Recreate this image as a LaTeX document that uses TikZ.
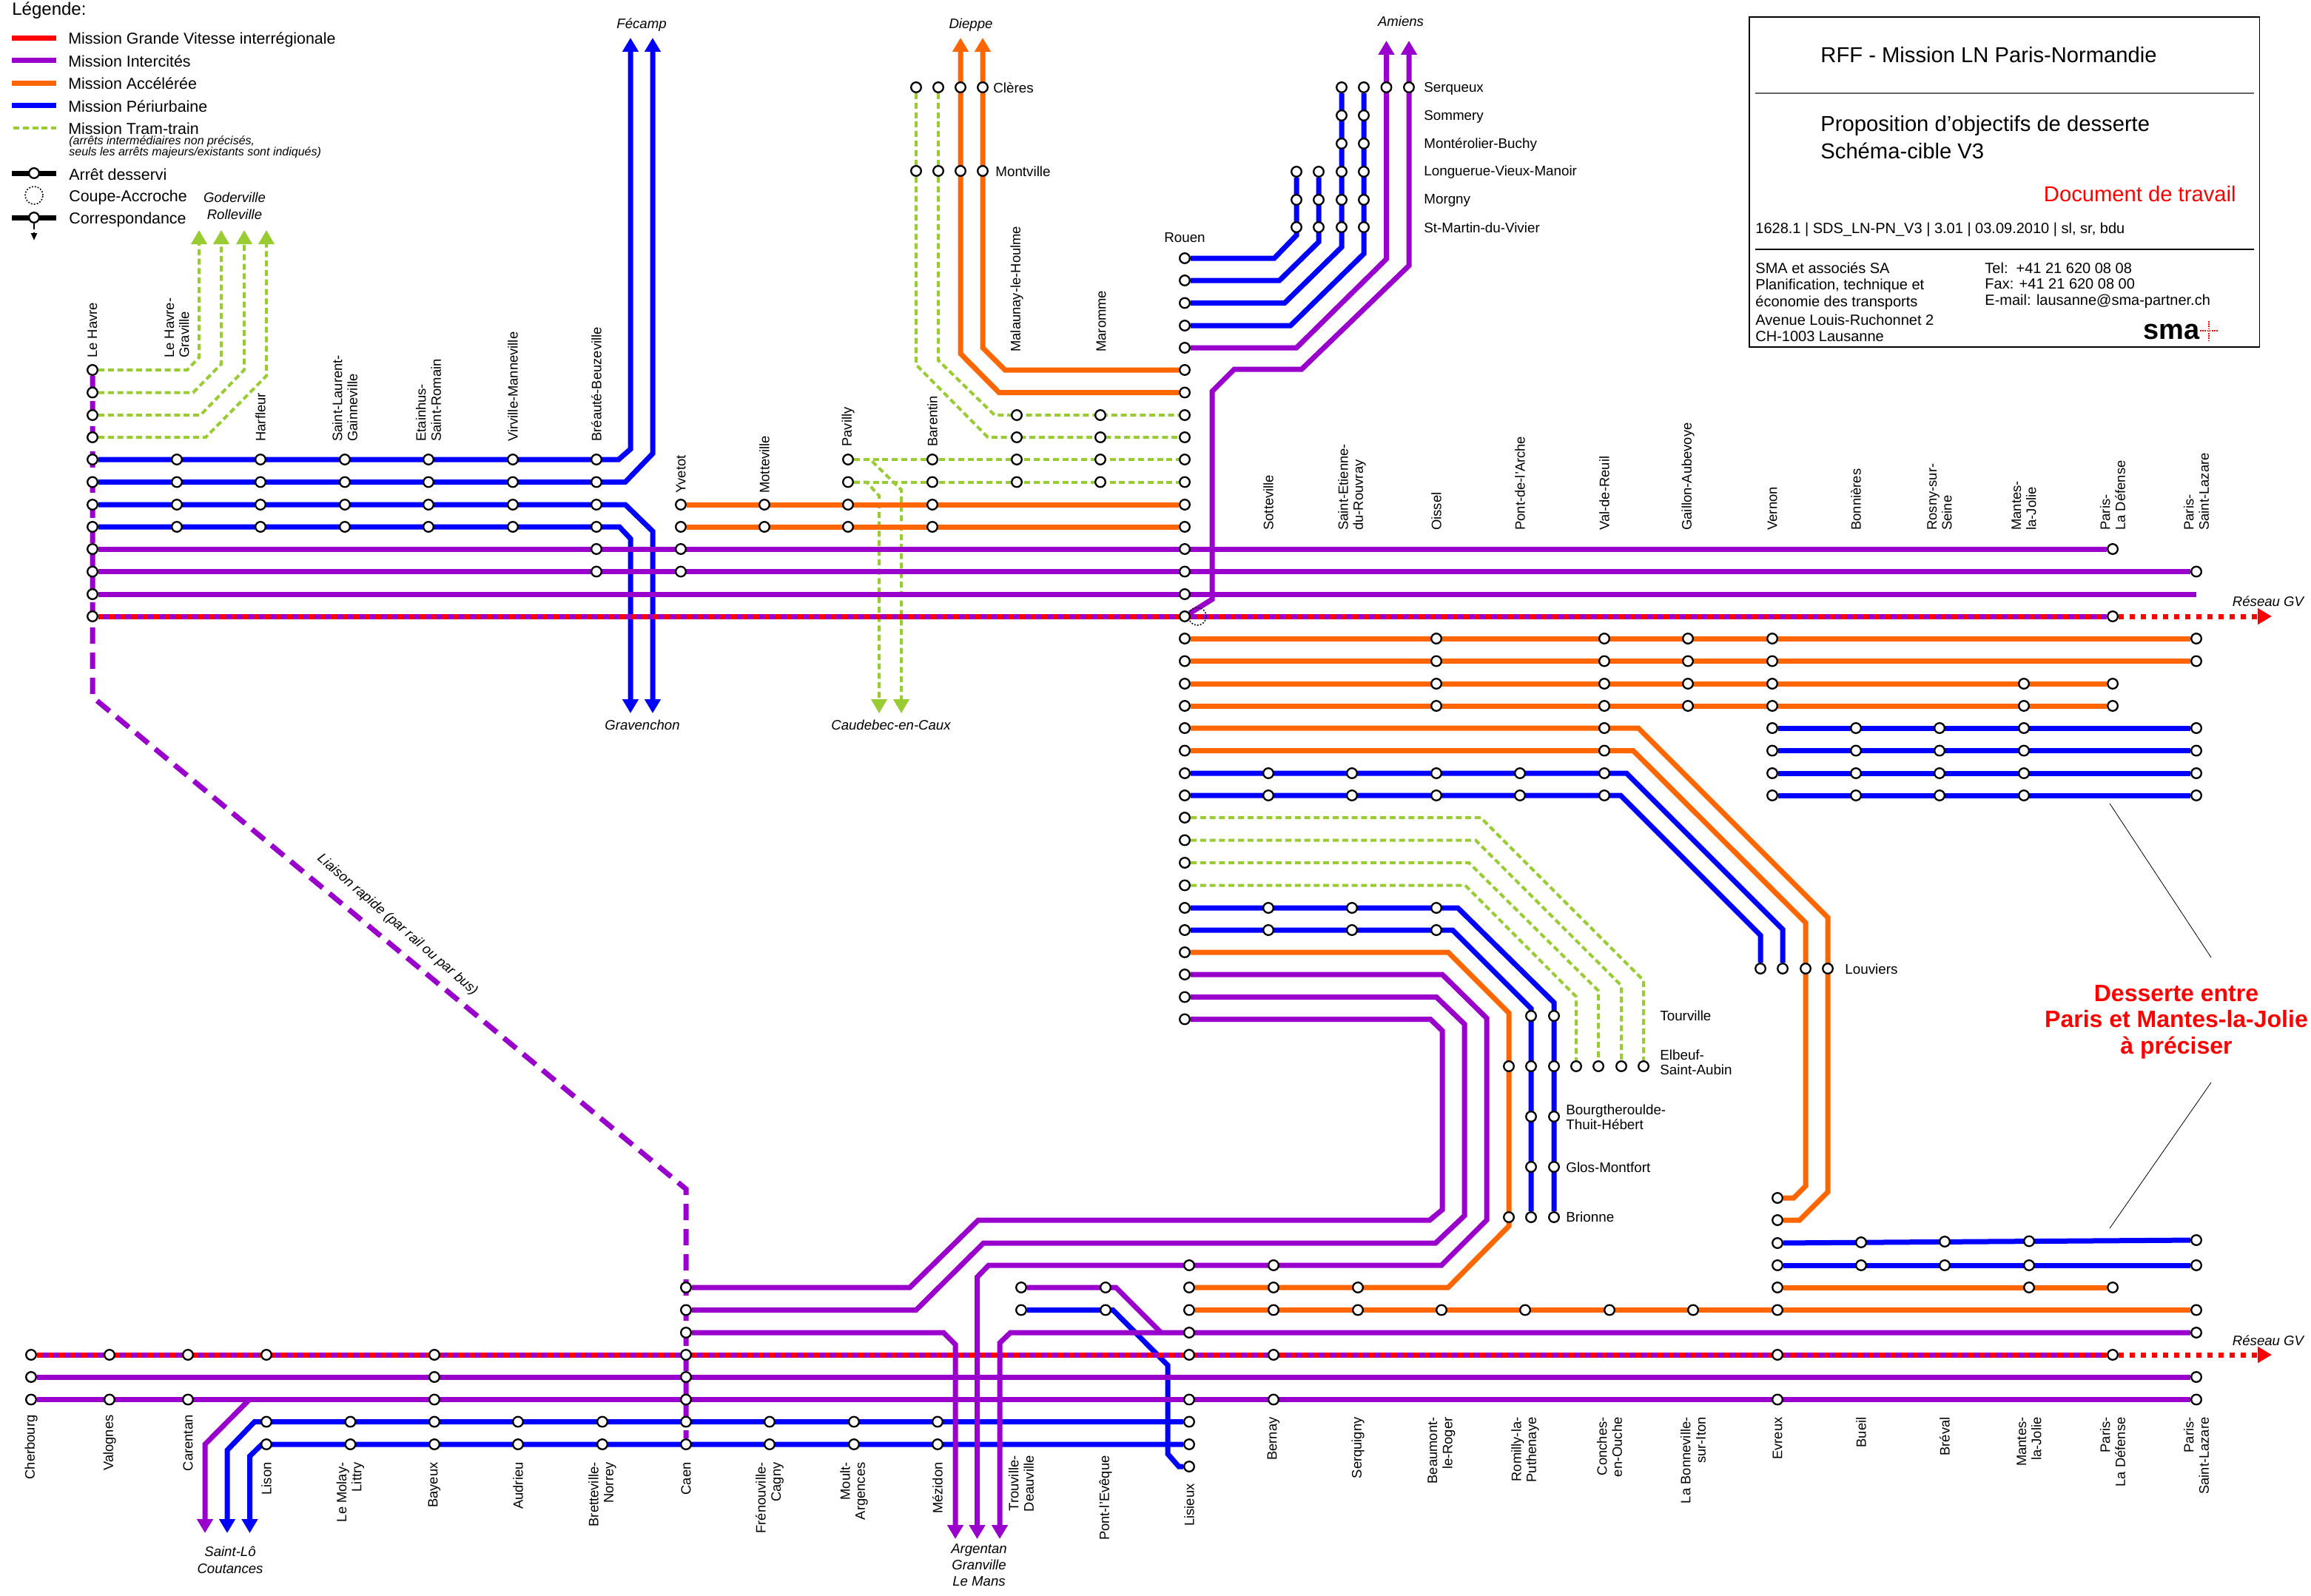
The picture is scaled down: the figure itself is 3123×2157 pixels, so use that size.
\documentclass[tikz,border=0pt]{standalone}
\usepackage{fontspec}
\setmainfont{Liberation Sans}
\usepackage{xcolor}
\usepackage{tikz}
\usetikzlibrary{arrows.meta,backgrounds}
\definecolor{colgv}{HTML}{FF0000}
\definecolor{colic}{HTML}{9900CC}
\definecolor{colacc}{HTML}{FF6600}
\definecolor{colperi}{HTML}{0000FF}
\definecolor{coltram}{HTML}{99CC33}
\tikzset{
  halt/.style={draw=black, fill=white, circle, line width=1.15pt, minimum size=6.8pt, inner sep=0pt},
  coupe/.style={draw=black, circle, dash pattern=on 0.9pt off 1.1pt, line width=0.8pt, minimum size=12pt, inner sep=0pt},
  linegv/.style={line width=3.5pt, colgv, dash pattern=on 3.75pt off 3.75pt},
  lineic/.style={line width=3.5pt, colic},
  lineacc/.style={line width=3.5pt, colacc},
  lineperi/.style={line width=3.5pt, colperi},
  linetram/.style={line width=2pt, coltram, dash pattern=on 4pt off 2.4pt},
  linerapide/.style={line width=3.5pt, colic, dash pattern=on 11pt off 6pt},
  linenoir/.style={line width=3.5pt, black},
  fleche/.style={-{Triangle[width=10.5pt,length=9.5pt]}},
  lab/.style={font=\fontsize{9.4}{10.2}\selectfont, inner sep=0pt},
  labrot/.style={font=\fontsize{9.2}{10.2}\selectfont, inner sep=0pt, rotate=90},
  labup/.style={labrot, anchor=west, align=left},
  labdn/.style={labrot, anchor=east, align=right},
  labr/.style={lab, anchor=west, align=left},
  dest/.style={font=\fontsize{9.3}{10.5}\selectfont\itshape, inner sep=0pt, align=center},
  leg/.style={font=\fontsize{10.7}{11}\selectfont, inner sep=0pt, anchor=west},
  cart/.style={font=\fontsize{14.6}{17}\selectfont, inner sep=0pt, anchor=west},
  cartp/.style={font=\fontsize{10}{11}\selectfont, inner sep=0pt, anchor=west}
}
\begin{document}
\begin{tikzpicture}[x=0.5pt,y=-0.5pt]
  \useasboundingbox (0,0) rectangle (3123,2157);

  % Legend
  \node[leg, font=\fontsize{12}{13}\selectfont] (legtitre) at (16,14) {Légende:};
  \coordinate (lega1) at (16,52); \coordinate (lega2) at (76,52);
  \coordinate (legb1) at (16,82); \coordinate (legb2) at (76,82);
  \coordinate (legc1) at (16,113); \coordinate (legc2) at (76,113);
  \coordinate (legd1) at (16,143); \coordinate (legd2) at (76,143);
  \coordinate (lege1) at (18,173); \coordinate (lege2) at (76,173);
  \coordinate (legf1) at (16,234); \coordinate (legf2) at (76,234);
  \coordinate (legg1) at (16,294); \coordinate (legg2) at (76,294);
  \coordinate (legg3) at (46,325);
  \node[leg] (legta) at (92,54) {Mission Grande Vitesse interrégionale};
  \node[leg] (legtb) at (92,83) {Mission Intercités};
  \node[leg] (legtc) at (92,113) {Mission Accélérée};
  \node[leg] (legtd) at (92,144) {Mission Périurbaine};
  \node[leg] (legte) at (92,174) {Mission Tram-train};
  \node[font=\fontsize{8}{7.8}\selectfont\itshape, inner sep=0pt, anchor=north west, align=left] (legtn) at (93,183) {(arrêts intermédiaires non précisés,\\seuls les arrêts majeurs/existants sont indiqués)};
  \node[leg] (legtf) at (93,236) {Arrêt desservi};
  \node[leg] (legtg) at (93,267) {Coupe-Accroche};
  \node[leg] (legth) at (93,297) {Correspondance};
  \node[halt] (legf) at (46,234) {};
  \node[coupe] (legc) at (46,264) {};
  \node[halt] (legg) at (46,294) {};

  % Cartouche
  \node[draw=black, line width=0.6pt, minimum width=344.75pt, minimum height=223pt, inner sep=0pt] (cadre) at (2708.75,246) {};
  \coordinate (sepa1) at (2372,126); \coordinate (sepa2) at (3046,126);
  \coordinate (sepb1) at (2372,337); \coordinate (sepb2) at (3046,337);
  \node[cart] (titre) at (2460,74) {RFF - Mission LN Paris-Normandie};
  \node[cart] (sous1) at (2460,170) {Proposition d’objectifs de desserte};
  \node[cart] (sous2) at (2460,204) {Schéma-cible V3};
  \node[cart, anchor=east, text=colgv] (travail) at (3022,262) {Document de travail};
  \node[cartp] (refdoc) at (2372,310) {1628.1 | SDS\_LN-PN\_V3 | 3.01 | 03.09.2010 | sl, sr, bdu};
  \node[cartp] (sma1) at (2372,362) {SMA et associés SA};
  \node[cartp] (sma2) at (2372,386) {Planification, technique et};
  \node[cartp] (sma3) at (2372,409) {économie des transports};
  \node[cartp] (sma4) at (2372,432) {Avenue Louis-Ruchonnet 2};
  \node[cartp] (sma5) at (2372,455) {CH-1003 Lausanne};
  \node[cartp] (tel) at (2682,362) {Tel:\ \ +41 21 620 08 08};
  \node[cartp] (fax) at (2682,384) {Fax: +41 21 620 08 00};
  \node[cartp] (mel) at (2682,407) {E-mail: lausanne@sma-partner.ch};
  \node[font=\fontsize{19}{19}\selectfont\bfseries, inner sep=0pt, anchor=east] (smalogo) at (2973,448) {sma};
  \coordinate (plusg) at (2973,447); \coordinate (plusd) at (2997,447);
  \coordinate (plush) at (2985,434); \coordinate (plusb) at (2985,460);

  % Rouen column
  \node[lab] (rouen) at (1601,321) {Rouen};
  \node[halt] (r0c13) at (1601,349) {}; \node[halt] (r1c13) at (1601,379) {}; \node[halt] (r2c13) at (1601,409.5) {}; \node[halt] (r3c13) at (1601,440) {};
  \node[halt] (r4c13) at (1601,470) {}; \node[halt] (r5c13) at (1601,500) {}; \node[halt] (r6c13) at (1601,530.5) {}; \node[halt] (r7c13) at (1601,561) {};
  \node[halt] (r8c13) at (1601,591) {}; \node[halt] (r9c13) at (1601,621) {}; \node[halt] (r10c13) at (1601,651.5) {}; \node[halt] (r11c13) at (1601,682) {};
  \node[halt] (r12c13) at (1601,712) {}; \node[halt] (r13c13) at (1601,742) {}; \node[halt] (r14c13) at (1601,772.5) {}; \node[halt] (r15c13) at (1601,803) {};
  \node[halt] (r16c13) at (1601,833) {}; \node[halt] (r17c13) at (1601,863) {}; \node[halt] (r18c13) at (1601,893.5) {}; \node[halt] (r19c13) at (1601,924) {};
  \node[halt] (r20c13) at (1601,954) {}; \node[halt] (r21c13) at (1601,984) {}; \node[halt] (r22c13) at (1601,1014.5) {}; \node[halt] (r23c13) at (1601,1045) {};
  \node[halt] (r24c13) at (1601,1075) {}; \node[halt] (r25c13) at (1601,1105) {}; \node[halt] (r26c13) at (1601,1135.5) {}; \node[halt] (r27c13) at (1601,1166) {};
  \node[halt] (r28c13) at (1601,1196.5) {}; \node[halt] (r29c13) at (1601,1227) {}; \node[halt] (r30c13) at (1601,1257) {}; \node[halt] (r31c13) at (1601,1287) {};
  \node[halt] (r32c13) at (1601,1317) {}; \node[halt] (r33c13) at (1601,1347.5) {}; \node[halt] (r34c13) at (1601,1377.5) {};

  % Amiens branch
  \node[halt] (ser3) at (1813,118) {}; \node[halt] (ser4) at (1843,118) {}; \node[halt] (ser5) at (1873.5,118) {}; \node[halt] (ser6) at (1904,118) {};
  \node[halt] (som3) at (1813,156) {}; \node[halt] (som4) at (1843,156) {};
  \node[halt] (mon3) at (1813,194) {}; \node[halt] (mon4) at (1843,194) {};
  \node[halt] (lon1) at (1752,232) {}; \node[halt] (lon2) at (1782,232) {}; \node[halt] (lon3) at (1813,232) {}; \node[halt] (lon4) at (1843,232) {};
  \node[halt] (mor1) at (1752,270) {}; \node[halt] (mor2) at (1782,270) {}; \node[halt] (mor3) at (1813,270) {}; \node[halt] (mor4) at (1843,270) {};
  \node[halt] (stm1) at (1752,307) {}; \node[halt] (stm2) at (1782,307) {}; \node[halt] (stm3) at (1813,307) {}; \node[halt] (stm4) at (1843,307) {};
  \node[labr] (serq) at (1924,120) {Serqueux};
  \node[labr] (somm) at (1924,158) {Sommery};
  \node[labr] (mont) at (1924,196) {Montérolier-Buchy};
  \node[labr] (long) at (1924,233) {Longuerue-Vieux-Manoir};
  \node[labr] (morg) at (1924,271) {Morgny};
  \node[labr] (stma) at (1924,308) {St-Martin-du-Vivier};
  \node[dest] (amiens) at (1893,29) {Amiens};
  \coordinate (amia) at (1873.5,55); \coordinate (amib) at (1904,55);

  % Dieppe branch
  \node[halt] (cle1) at (1238,118) {}; \node[halt] (cle2) at (1268,118) {}; \node[halt] (cle3) at (1298,118) {}; \node[halt] (cle4) at (1328,118) {};
  \node[halt] (mtv1) at (1238,231) {}; \node[halt] (mtv2) at (1268,231) {}; \node[halt] (mtv3) at (1298,231) {}; \node[halt] (mtv4) at (1328,231) {};
  \node[labr] (cleres) at (1342,119) {Clères};
  \node[labr] (montv) at (1345,232) {Montville};
  \node[dest] (dieppe) at (1312,34) {Dieppe};
  \coordinate (diea) at (1298,51); \coordinate (dieb) at (1328,51);
  \node[labup] (malau) at (1374,476) {Malaunay-le-Houlme};
  \node[labup] (marom) at (1488,476) {Maromme};

  % Le Havre column and west stops
  \node[halt] (r5c0) at (125,500) {}; \node[halt] (r6c0) at (125,530.5) {}; \node[halt] (r7c0) at (125,561) {}; \node[halt] (r8c0) at (125,591) {};
  \node[halt] (r9c0) at (125,621) {}; \node[halt] (r9c1) at (239,621) {}; \node[halt] (r9c2) at (352,621) {}; \node[halt] (r9c3) at (466,621) {};
  \node[halt] (r9c4) at (579,621) {}; \node[halt] (r9c5) at (693,621) {}; \node[halt] (r9c6) at (806,621) {};
  \node[halt] (r10c0) at (125,651.5) {}; \node[halt] (r10c1) at (239,651.5) {}; \node[halt] (r10c2) at (352,651.5) {}; \node[halt] (r10c3) at (466,651.5) {};
  \node[halt] (r10c4) at (579,651.5) {}; \node[halt] (r10c5) at (693,651.5) {}; \node[halt] (r10c6) at (806,651.5) {};
  \node[halt] (r11c0) at (125,682) {}; \node[halt] (r11c1) at (239,682) {}; \node[halt] (r11c2) at (352,682) {}; \node[halt] (r11c3) at (466,682) {};
  \node[halt] (r11c4) at (579,682) {}; \node[halt] (r11c5) at (693,682) {}; \node[halt] (r11c6) at (806,682) {};
  \node[halt] (r12c0) at (125,712) {}; \node[halt] (r12c1) at (239,712) {}; \node[halt] (r12c2) at (352,712) {}; \node[halt] (r12c3) at (466,712) {};
  \node[halt] (r12c4) at (579,712) {}; \node[halt] (r12c5) at (693,712) {}; \node[halt] (r12c6) at (806,712) {};
  \node[halt] (r13c0) at (125,742) {}; \node[halt] (r13c6) at (806,742) {}; \node[halt] (r13c7) at (920,742) {}; \node[halt] (r13c24) at (2855,742) {};
  \node[halt] (r14c0) at (125,772.5) {}; \node[halt] (r14c6) at (806,772.5) {}; \node[halt] (r14c7) at (920,772.5) {}; \node[halt] (r14c25) at (2968,772.5) {};
  \node[halt] (r15c0) at (125,803) {}; \node[halt] (r16c0) at (125,833) {}; \node[halt] (r16c24) at (2855,833) {};
  \coordinate (r15fin) at (2968,803);

  \node[labup] (lehavre) at (125,484) {Le Havre};
  \node[labup] (graville) at (239,484) {Le Havre-\\Graville};
  \node[labup] (harfleur) at (352,597) {Harfleur};
  \node[labup] (gainne) at (466,597) {Saint-Laurent-\\Gainneville};
  \node[labup] (etainhus) at (579,597) {Etainhus-\\Saint-Romain};
  \node[labup] (virville) at (693,597) {Virville-Manneville};
  \node[labup] (breaute) at (806,597) {Bréauté-Beuzeville};
  \node[dest] (goder) at (317,278) {Goderville\\[1pt]Rolleville};
  \coordinate (goda) at (269,311); \coordinate (godb) at (299,311); \coordinate (godc) at (330,311); \coordinate (godd) at (360,311);
  \node[dest] (fecamp) at (867,34) {Fécamp};
  \coordinate (feca) at (852,51); \coordinate (fecb) at (882,51);
  \node[dest] (gravenchon) at (868,980) {Gravenchon};
  \coordinate (grava) at (852,964); \coordinate (gravb) at (882,964);

  % Yvetot to Barentin
  \node[halt] (r11c7) at (920,682) {}; \node[halt] (r11c8) at (1033,682) {}; \node[halt] (r11c9) at (1146,682) {}; \node[halt] (r11c10) at (1260,682) {};
  \node[halt] (r12c7) at (920,712) {}; \node[halt] (r12c8) at (1033,712) {}; \node[halt] (r12c9) at (1146,712) {}; \node[halt] (r12c10) at (1260,712) {};
  \node[halt] (r9c9) at (1146,621) {}; \node[halt] (r9c10) at (1260,621) {}; \node[halt] (r9c11) at (1374,621) {}; \node[halt] (r9c12) at (1487,621) {};
  \node[halt] (r10c9) at (1146,651.5) {}; \node[halt] (r10c10) at (1260,651.5) {}; \node[halt] (r10c11) at (1374,651.5) {}; \node[halt] (r10c12) at (1487,651.5) {};
  \node[halt] (r7c11) at (1374,561) {}; \node[halt] (r7c12) at (1487,561) {}; \node[halt] (r8c11) at (1374,591) {}; \node[halt] (r8c12) at (1487,591) {};
  \node[labup] (yvetot) at (920,667) {Yvetot};
  \node[labup] (motte) at (1033,667) {Motteville};
  \node[labup] (pavilly) at (1146,604) {Pavilly};
  \node[labup] (barentin) at (1260,604) {Barentin};
  \node[dest] (caudebec) at (1204,980) {Caudebec-en-Caux};
  \coordinate (cauda) at (1188,964); \coordinate (caudb) at (1218,964);

  % East stops, Rouen to Paris
  \node[halt] (r17c16) at (1941,863) {}; \node[halt] (r17c18) at (2168,863) {}; \node[halt] (r17c19) at (2281,863) {}; \node[halt] (r17c20) at (2395,863) {}; \node[halt] (r17c25) at (2968,863) {};
  \node[halt] (r18c16) at (1941,893.5) {}; \node[halt] (r18c18) at (2168,893.5) {}; \node[halt] (r18c19) at (2281,893.5) {}; \node[halt] (r18c20) at (2395,893.5) {}; \node[halt] (r18c25) at (2968,893.5) {};
  \node[halt] (r19c16) at (1941,924) {}; \node[halt] (r19c18) at (2168,924) {}; \node[halt] (r19c19) at (2281,924) {}; \node[halt] (r19c20) at (2395,924) {}; \node[halt] (r19c23) at (2735,924) {}; \node[halt] (r19c24) at (2855,924) {};
  \node[halt] (r20c16) at (1941,954) {}; \node[halt] (r20c18) at (2168,954) {}; \node[halt] (r20c19) at (2281,954) {}; \node[halt] (r20c20) at (2395,954) {}; \node[halt] (r20c23) at (2735,954) {}; \node[halt] (r20c24) at (2855,954) {};
  \node[halt] (r21c18) at (2168,984) {}; \node[halt] (r22c18) at (2168,1014.5) {};
  \node[halt] (r21c20) at (2395,984) {}; \node[halt] (r21c21) at (2508,984) {}; \node[halt] (r21c22) at (2621,984) {}; \node[halt] (r21c23) at (2735,984) {}; \node[halt] (r21c25) at (2968,984) {};
  \node[halt] (r22c20) at (2395,1014.5) {}; \node[halt] (r22c21) at (2508,1014.5) {}; \node[halt] (r22c22) at (2621,1014.5) {}; \node[halt] (r22c23) at (2735,1014.5) {}; \node[halt] (r22c25) at (2968,1014.5) {};
  \node[halt] (r23c20) at (2395,1045) {}; \node[halt] (r23c21) at (2508,1045) {}; \node[halt] (r23c22) at (2621,1045) {}; \node[halt] (r23c23) at (2735,1045) {}; \node[halt] (r23c25) at (2968,1045) {};
  \node[halt] (r24c20) at (2395,1075) {}; \node[halt] (r24c21) at (2508,1075) {}; \node[halt] (r24c22) at (2621,1075) {}; \node[halt] (r24c23) at (2735,1075) {}; \node[halt] (r24c25) at (2968,1075) {};
  \node[halt] (r23c14) at (1714,1045) {}; \node[halt] (r23c15) at (1827,1045) {}; \node[halt] (r23c16) at (1941,1045) {}; \node[halt] (r23c17) at (2054,1045) {}; \node[halt] (r23c18) at (2168,1045) {};
  \node[halt] (r24c14) at (1714,1075) {}; \node[halt] (r24c15) at (1827,1075) {}; \node[halt] (r24c16) at (1941,1075) {}; \node[halt] (r24c17) at (2054,1075) {}; \node[halt] (r24c18) at (2168,1075) {};
  \node[halt] (r29c14) at (1714,1227) {}; \node[halt] (r29c15) at (1827,1227) {}; \node[halt] (r29c16) at (1941,1227) {};
  \node[halt] (r30c14) at (1714,1257) {}; \node[halt] (r30c15) at (1827,1257) {}; \node[halt] (r30c16) at (1941,1257) {};
  \node[labup] (sotte) at (1714,717) {Sotteville};
  \node[labup] (etienne) at (1827,717) {Saint-Etienne-\\du-Rouvray};
  \node[labup] (oissel) at (1941,717) {Oissel};
  \node[labup] (arche) at (2054,717) {Pont-de-l’Arche};
  \node[labup] (valreuil) at (2168,717) {Val-de-Reuil};
  \node[labup] (gaillon) at (2281,717) {Gaillon-Aubevoye};
  \node[labup] (vernon) at (2395,717) {Vernon};
  \node[labup] (bonnieres) at (2508,717) {Bonnières};
  \node[labup] (rosny) at (2621,717) {Rosny-sur-\\Seine};
  \node[labup] (mantesh) at (2735,717) {Mantes-\\la-Jolie};
  \node[labup] (defenseh) at (2855,717) {Paris-\\La Défense};
  \node[labup] (lazareh) at (2968,717) {Paris-\\Saint-Lazare};
  \node[dest] (reseauh) at (3065,813) {Réseau GV};
  \coordinate (gvh) at (3070,833);

  % Louviers, Elbeuf, Brionne
  \node[halt] (lou1) at (2379,1309) {}; \node[halt] (lou2) at (2409,1309) {}; \node[halt] (lou3) at (2440,1309) {}; \node[halt] (lou4) at (2470,1309) {};
  \node[labr] (louviers) at (2493,1310) {Louviers};
  \node[halt] (tou2) at (2069,1373) {}; \node[halt] (tou3) at (2100,1373) {};
  \node[halt] (elb1) at (2039,1441) {}; \node[halt] (elb2) at (2069,1441) {}; \node[halt] (elb3) at (2100,1441) {}; \node[halt] (elb4) at (2130,1441) {};
  \node[halt] (elb5) at (2160,1441) {}; \node[halt] (elb6) at (2191,1441) {}; \node[halt] (elb7) at (2221,1441) {};
  \node[halt] (bou2) at (2069,1509) {}; \node[halt] (bou3) at (2100,1509) {};
  \node[halt] (glo2) at (2069,1577) {}; \node[halt] (glo3) at (2100,1577) {};
  \node[halt] (bri1) at (2039,1645) {}; \node[halt] (bri2) at (2069,1645) {}; \node[halt] (bri3) at (2100,1645) {};
  \node[labr] (tourville) at (2243,1373) {Tourville};
  \node[labr] (elbeuf) at (2243,1436) {Elbeuf-\\Saint-Aubin};
  \node[labr] (bourg) at (2116,1510) {Bourgtheroulde-\\Thuit-Hébert};
  \node[labr] (glos) at (2116,1578) {Glos-Montfort};
  \node[labr] (brionne) at (2116,1645) {Brionne};

  % Paris-Mantes note
  \node[font=\fontsize{16}{17.8}\selectfont\bfseries, text=colgv, inner sep=0pt, align=center] (preciser) at (2941,1381) {Desserte entre\\Paris et Mantes-la-Jolie\\à préciser};
  \coordinate (noteh1) at (2851,1086); \coordinate (noteh2) at (2988,1294);
  \coordinate (noteb1) at (2988,1463); \coordinate (noteb2) at (2851,1660);

  % Lower network, Cherbourg to Caen
  \node[halt] (l6w1) at (42,1831) {}; \node[halt] (l6w2) at (148,1831) {}; \node[halt] (l6w3) at (254,1831) {}; \node[halt] (l6k0) at (360,1831) {}; \node[halt] (l6k2) at (587,1831) {};
  \node[halt] (l7w1) at (42,1861) {}; \node[halt] (l7k2) at (587,1861) {};
  \node[halt] (l8w1) at (42,1891.5) {}; \node[halt] (l8w2) at (148,1891.5) {}; \node[halt] (l8w3) at (254,1891.5) {}; \node[halt] (l8k2) at (587,1891.5) {};
  \node[halt] (l3k5) at (927,1740) {}; \node[halt] (l4k5) at (927,1770.5) {}; \node[halt] (l5k5) at (927,1801) {}; \node[halt] (l6k5) at (927,1831) {};
  \node[halt] (l7k5) at (927,1861) {}; \node[halt] (l8k5) at (927,1891.5) {};
  \node[halt] (l9k0) at (360,1921.5) {}; \node[halt] (l9k1) at (473.5,1921.5) {}; \node[halt] (l9k2) at (587,1921.5) {}; \node[halt] (l9k3) at (700,1921.5) {};
  \node[halt] (l9k4) at (814,1921.5) {}; \node[halt] (l9k5) at (927,1921.5) {}; \node[halt] (l9k6) at (1040,1921.5) {}; \node[halt] (l9k7) at (1154,1921.5) {}; \node[halt] (l9k8) at (1267,1921.5) {};
  \node[halt] (l10k0) at (360,1952) {}; \node[halt] (l10k1) at (473.5,1952) {}; \node[halt] (l10k2) at (587,1952) {}; \node[halt] (l10k3) at (700,1952) {};
  \node[halt] (l10k4) at (814,1952) {}; \node[halt] (l10k5) at (927,1952) {}; \node[halt] (l10k6) at (1040,1952) {}; \node[halt] (l10k7) at (1154,1952) {}; \node[halt] (l10k8) at (1267,1952) {};

  % Lower network, Lisieux to Paris
  \node[halt] (l3k9) at (1380,1740) {}; \node[halt] (l3k10) at (1494,1740) {}; \node[halt] (l4k9) at (1380,1770.5) {}; \node[halt] (l4k10) at (1494,1770.5) {};
  \node[halt] (l2k11) at (1607,1710) {}; \node[halt] (l3k11) at (1607,1740) {}; \node[halt] (l4k11) at (1607,1770.5) {}; \node[halt] (l5k11) at (1607,1801) {}; \node[halt] (l6k11) at (1607,1831) {};
  \node[halt] (l8k11) at (1607,1891.5) {}; \node[halt] (l9k11) at (1607,1921.5) {}; \node[halt] (l10k11) at (1607,1952) {}; \node[halt] (l11k11) at (1607,1982) {};
  \node[halt] (l2k12) at (1721,1710) {}; \node[halt] (l3k12) at (1721,1740) {}; \node[halt] (l4k12) at (1721,1770.5) {}; \node[halt] (l6k12) at (1721,1831) {}; \node[halt] (l8k12) at (1721,1891.5) {};
  \node[halt] (l3k13) at (1835,1740) {}; \node[halt] (l4k13) at (1835,1770.5) {}; \node[halt] (l4k14) at (1948,1770.5) {}; \node[halt] (l4k15) at (2061,1770.5) {};
  \node[halt] (l4k16) at (2175,1770.5) {}; \node[halt] (l4k17) at (2288,1770.5) {}; \node[halt] (l4k18) at (2402,1770.5) {}; \node[halt] (l4k23) at (2968,1770.5) {};
  \node[halt] (louo1) at (2402,1619) {}; \node[halt] (louo2) at (2402,1649) {};
  \node[halt] (l1k18) at (2402,1680) {}; \node[halt] (l1k19) at (2515,1679) {}; \node[halt] (l1k20) at (2628,1678) {}; \node[halt] (l1k21) at (2742,1677.5) {}; \node[halt] (l1k23) at (2968,1676) {};
  \node[halt] (l2k18) at (2402,1710) {}; \node[halt] (l2k19) at (2515,1710) {}; \node[halt] (l2k20) at (2628,1710) {}; \node[halt] (l2k21) at (2742,1710) {}; \node[halt] (l2k23) at (2968,1710) {};
  \node[halt] (l3k18) at (2402,1740) {}; \node[halt] (l3k21) at (2742,1740) {}; \node[halt] (l3k22) at (2855,1740) {};
  \node[halt] (l5k23) at (2968,1801) {}; \node[halt] (l6k18) at (2402,1831) {}; \node[halt] (l6k22) at (2855,1831) {};
  \node[halt] (l7k23) at (2968,1861) {}; \node[halt] (l8k18) at (2402,1891.5) {}; \node[halt] (l8k23) at (2968,1891.5) {};
  \node[dest] (reseaub) at (3065,1812) {Réseau GV};
  \coordinate (gvb) at (3070,1831);

  % Lower labels
  \node[labdn] (cherbourg) at (42,1912) {Cherbourg};
  \node[labdn] (valognes) at (148,1912) {Valognes};
  \node[labdn] (carentan) at (254,1912) {Carentan};
  \node[labdn] (lison) at (360,1976) {Lison};
  \node[labdn] (molay) at (473.5,1976) {Le Molay-\\Littry};
  \node[labdn] (bayeux) at (587,1976) {Bayeux};
  \node[labdn] (audrieu) at (700,1976) {Audrieu};
  \node[labdn] (brette) at (814,1976) {Bretteville-\\Norrey};
  \node[labdn] (caen) at (927,1976) {Caen};
  \node[labdn] (freno) at (1040,1976) {Frénouville-\\Cagny};
  \node[labdn] (moult) at (1154,1976) {Moult-\\Argences};
  \node[labdn] (mezidon) at (1267,1976) {Mézidon};
  \node[labdn] (trouville) at (1380,1967) {Trouville-\\Deauville};
  \node[labdn] (pontev) at (1494,1967) {Pont-l’Evêque};
  \node[labdn] (lisieux) at (1607,2005) {Lisieux};
  \node[labdn] (bernay) at (1721,1915) {Bernay};
  \node[labdn] (serquigny) at (1835,1915) {Serquigny};
  \node[labdn] (beaumont) at (1948,1915) {Beaumont-\\le-Roger};
  \node[labdn] (romilly) at (2061,1915) {Romilly-la-\\Puthenaye};
  \node[labdn] (conches) at (2175,1915) {Conches-\\en-Ouche};
  \node[labdn] (bonneville) at (2288,1915) {La Bonneville-\\sur-Iton};
  \node[labdn] (evreux) at (2402,1915) {Evreux};
  \node[labdn] (bueil) at (2515,1915) {Bueil};
  \node[labdn] (breval) at (2628,1915) {Bréval};
  \node[labdn] (mantesb) at (2742,1915) {Mantes-\\la-Jolie};
  \node[labdn] (defenseb) at (2855,1915) {Paris-\\La Défense};
  \node[labdn] (lazareb) at (2968,1915) {Paris-\\Saint-Lazare};
  \node[dest] (saintlo) at (311,2108.5) {Saint-Lô\\[1pt]Coutances};
  \coordinate (stloa) at (277,2072); \coordinate (stlob) at (307,2072); \coordinate (stloc) at (337.5,2072);
  \node[dest] (argentan) at (1323,2115) {Argentan\\[0.5pt]Granville\\[0.5pt]Le Mans};
  \coordinate (arga) at (1291,2080); \coordinate (argb) at (1320.5,2080); \coordinate (argc) at (1351,2080);
  \node[font=\fontsize{9.2}{10}\selectfont\itshape, inner sep=0pt, rotate=-41] (liaison) at (537,1250) {Liaison rapide (par rail ou par bus)};

  \begin{scope}[on background layer]
    % Legend lines and cartouche rules
    \draw[line width=3.5pt, colgv] (lega1) -- (lega2);
    \draw[lineic] (legb1) -- (legb2);
    \draw[lineacc] (legc1) -- (legc2);
    \draw[lineperi] (legd1) -- (legd2);
    \draw[linetram] (lege1) -- (lege2);
    \draw[linenoir] (legf1) -- (legf2);
    \draw[linenoir] (legg1) -- (legg2);
    \draw[black, line width=1.3pt, dash pattern=on 4pt off 2pt, -{Triangle[width=4pt,length=5pt]}] (legg) -- (legg3);
    \draw[gray!80!black, line width=0.8pt] (sepa1) -- (sepa2);
    \draw[black, line width=0.6pt] (sepb1) -- (sepb2);
    \draw[colgv, dash pattern=on 0.8pt off 0.8pt, line width=0.8pt] (plusg) -- (plusd);
    \draw[colgv, dash pattern=on 0.8pt off 0.8pt, line width=0.8pt] (plush) -- (plusb);
    \draw[black, line width=0.4pt] (noteh1) -- (noteh2);
    \draw[black, line width=0.4pt] (noteb1) -- (noteb2);

    % Tram-train
    \draw[linetram, fleche] (r5c0) -- (253,500) -- (269,483) -- (goda);
    \draw[linetram, fleche] (r6c0) -- (261,530.5) -- (299,492) -- (godb);
    \draw[linetram, fleche] (r7c0) -- (271,561) -- (330,500) -- (godc);
    \draw[linetram, fleche] (r8c0) -- (278,591) -- (360,508) -- (godd);
    \draw[linetram] (cle1) -- (mtv1);
    \draw[linetram] (cle2) -- (mtv2);
    \draw[linetram] (mtv1) -- (1238,493) -- (1335,591) -- (r8c13);
    \draw[linetram] (mtv2) -- (1268,487) -- (1344,561) -- (r7c13);
    \draw[linetram] (r9c9) -- (r9c13);
    \draw[linetram] (r10c9) -- (r10c13);
    \draw[linetram, fleche] (r9c9) -- (1176,621) -- (1218,662) -- (caudb);
    \draw[linetram, fleche] (r10c9) -- (1171,651.5) -- (1188,670) -- (cauda);
    \draw[linetram] (r25c13) -- (2001,1105) -- (2221,1325) -- (elb7);
    \draw[linetram] (r26c13) -- (1994,1135.5) -- (2191,1332) -- (elb6);
    \draw[linetram] (r27c13) -- (1985,1166) -- (2160,1339) -- (elb5);
    \draw[linetram] (r28c13) -- (1980,1196.5) -- (2130,1347) -- (elb4);

    % Periurbain
    \draw[lineperi, fleche] (r9c0) -- (836,621) -- (852,607) -- (feca);
    \draw[lineperi, fleche] (r10c0) -- (845,651.5) -- (882,613) -- (fecb);
    \draw[lineperi, fleche] (r11c0) -- (845,682) -- (882,718) -- (gravb);
    \draw[lineperi, fleche] (r12c0) -- (837,712) -- (852,728) -- (grava);
    \draw[lineperi] (r0c13) -- (1722,349) -- (1752,318) -- (lon1);
    \draw[lineperi] (r1c13) -- (1729,379) -- (1782,327) -- (lon2);
    \draw[lineperi] (r2c13) -- (1736,409.5) -- (1813,334) -- (ser3);
    \draw[lineperi] (r3c13) -- (1744,440) -- (1843,343) -- (ser4);
    \draw[lineperi] (r21c20) -- (r21c25);
    \draw[lineperi] (r22c20) -- (r22c25);
    \draw[lineperi] (r23c20) -- (r23c25);
    \draw[lineperi] (r24c20) -- (r24c25);
    \draw[lineperi] (r23c13) -- (2198,1045) -- (2409,1256) -- (lou2);
    \draw[lineperi] (r24c13) -- (2190,1075) -- (2379,1264) -- (lou1);
    \draw[lineperi] (r29c13) -- (1970,1227) -- (2100,1355) -- (bri3);
    \draw[lineperi] (r30c13) -- (1963,1257) -- (2069,1363) -- (bri2);
    \draw[lineperi, fleche] (l9k11) -- (344,1921.5) -- (307,1960) -- (stlob);
    \draw[lineperi, fleche] (l10k11) -- (354,1952) -- (337.5,1968) -- (stloc);
    \draw[lineperi] (l4k9) -- (1504,1770.5) -- (1578,1845) -- (1578,1965) -- (1593,1982) -- (l11k11);
    \draw[lineperi] (l1k18) -- (l1k23);
    \draw[lineperi] (l2k18) -- (l2k23);

    % Acceleree
    \draw[lineacc, fleche] (r5c13) -- (1358,500) -- (1328,470) -- (dieb);
    \draw[lineacc, fleche] (r6c13) -- (1350,530.5) -- (1298,478) -- (diea);
    \draw[lineacc] (r11c7) -- (r11c13);
    \draw[lineacc] (r12c7) -- (r12c13);
    \draw[lineacc] (r17c13) -- (r17c25);
    \draw[lineacc] (r18c13) -- (r18c25);
    \draw[lineacc] (r19c13) -- (r19c24);
    \draw[lineacc] (r20c13) -- (r20c24);
    \draw[lineacc] (r21c13) -- (2214,984) -- (2470,1240) -- (2470,1611) -- (2432,1649) -- (louo2);
    \draw[lineacc] (r22c13) -- (2207,1014.5) -- (2440,1247) -- (2440,1603) -- (2424,1619) -- (louo1);
    \draw[lineacc] (r31c13) -- (1957,1287) -- (2039,1369) -- (2039,1657) -- (1957,1740) -- (l3k11);
    \draw[lineacc] (l4k11) -- (l4k23);
    \draw[lineacc] (l3k18) -- (l3k22);

    % Intercites
    \draw[linerapide] (r5c0) -- (125,942) -- (927,1607) -- (l10k5);
    \draw[lineic, fleche] (r4c13) -- (1752,470) -- (1873.5,350) -- (amia);
    \draw[lineic, fleche] (r16c13) -- (1638,810) -- (1638,529) -- (1668,499) -- (1759,499) -- (1904,359) -- (amib);
    \draw[lineic] (r13c0) -- (r13c24);
    \draw[lineic] (r14c0) -- (r14c25);
    \draw[lineic] (r15c0) -- (r15fin);
    \draw[lineic] (r16c0) -- (r16c24);
    \draw[lineic, fleche] (r32c13) -- (1949,1317) -- (2009,1376) -- (2009,1649) -- (1948,1710) -- (1336,1710) -- (1320.5,1726) -- (argb);
    \draw[lineic] (r33c13) -- (1941,1347.5) -- (1979,1384) -- (1979,1643) -- (1940,1680) -- (1329,1680) -- (1238,1770.5) -- (l4k5);
    \draw[lineic] (r34c13) -- (1933,1377.5) -- (1949,1393) -- (1949,1635) -- (1932,1649) -- (1322,1649) -- (1229.5,1740) -- (l3k5);
    \draw[lineic, fleche] (l5k5) -- (1275,1801) -- (1291,1817) -- (arga);
    \draw[lineic, fleche] (l5k23) -- (1365.5,1801) -- (1351,1815) -- (argc);
    \draw[lineic] (l3k9) -- (1508,1740) -- (1569,1801);
    \draw[lineic] (l6w1) -- (l6k22);
    \draw[lineic] (l7w1) -- (l7k23);
    \draw[lineic] (l8w1) -- (l8k23);
    \draw[lineic, fleche] (337,1891.5) -- (277,1952) -- (stloa);

    % Grande Vitesse
    \draw[linegv] (r16c0) -- (r16c24);
    \draw[linegv, fleche] (r16c24) -- (gvh);
    \draw[linegv] (l6w1) -- (l6k22);
    \draw[linegv, fleche] (l6k22) -- (gvb);

    % Coupe-accroche mark
    \node[coupe] (coupe) at (1618,833) {};
  \end{scope}
\end{tikzpicture}
\end{document}
